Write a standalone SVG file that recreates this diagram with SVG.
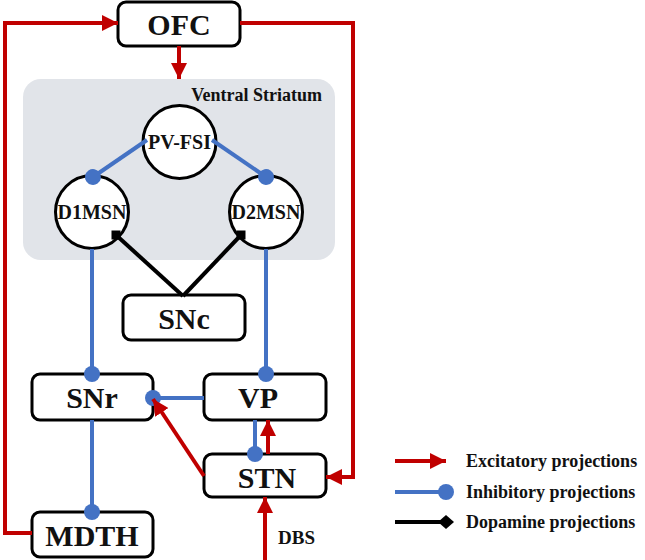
<svg xmlns="http://www.w3.org/2000/svg" width="645" height="560" viewBox="0 0 645 560">
<style>
.box{fill:#fff;stroke:#000;stroke-width:3}
.lbl{font-family:"Liberation Serif","Times New Roman",serif;font-weight:bold;fill:#111;text-anchor:middle}
.big{font-size:30px}
.sm{font-size:20px}
.exc{fill:none;stroke:#c00000;stroke-width:4}
.inh{fill:none;stroke:#4472c4;stroke-width:4}
.dop{fill:none;stroke:#000;stroke-width:4}
.leg{font-family:"Liberation Serif","Times New Roman",serif;font-weight:bold;font-size:18px;fill:#111}
</style>
<defs>
<marker id="arr" markerUnits="userSpaceOnUse" markerWidth="16" markerHeight="16" refX="16" refY="8" orient="auto" viewBox="0 0 16 16">
<path d="M0,0 L16,8 L0,16 z" fill="#c00000"/>
</marker>
<marker id="dot" markerUnits="userSpaceOnUse" markerWidth="18" markerHeight="18" refX="9" refY="9" orient="auto" viewBox="0 0 18 18">
<circle cx="9" cy="9" r="8" fill="#4472c4"/>
</marker>
<marker id="sq" markerUnits="userSpaceOnUse" markerWidth="10" markerHeight="10" refX="5" refY="5" orient="0" viewBox="0 0 10 10">
<rect x="0.5" y="0.5" width="9" height="9" fill="#000"/>
</marker>
<marker id="dia" markerUnits="userSpaceOnUse" markerWidth="18" markerHeight="18" refX="9" refY="9" orient="auto" viewBox="0 0 18 18">
<path d="M1,9 L9,2 L17,9 L9,16 z" fill="#000"/>
</marker>
</defs>
<rect x="23" y="79" width="312" height="181" rx="18" fill="#e1e4e9"/>
<text x="322" y="101" font-family="Liberation Serif, Times New Roman, serif" font-weight="bold" font-size="18" fill="#111" text-anchor="end">Ventral Striatum</text>
<g id="OFC"><rect class="box" x="118" y="2" width="122" height="44" rx="8"/><text class="lbl big" x="179" y="35">OFC</text></g>
<g id="PV-FSI"><circle class="box" cx="179.5" cy="142" r="36.5"/><text class="lbl sm" x="179.5" y="149">PV-FSI</text></g>
<g id="D1MSN"><circle class="box" cx="92" cy="212" r="36.5"/><text class="lbl sm" x="92" y="219">D1MSN</text></g>
<g id="D2MSN"><circle class="box" cx="266" cy="212" r="36.5"/><text class="lbl sm" x="266" y="219">D2MSN</text></g>
<g id="SNc"><rect class="box" x="123" y="295" width="122" height="45" rx="8"/><text class="lbl big" x="184" y="329">SNc</text></g>
<g id="SNr"><rect class="box" x="32" y="374" width="121" height="46" rx="8"/><text class="lbl big" x="92" y="408">SNr</text></g>
<g id="VP"><rect class="box" x="204" y="374" width="122" height="46" rx="8"/><text class="lbl big" x="258" y="408">VP</text></g>
<g id="STN"><rect class="box" x="204" y="454" width="122" height="43" rx="8"/><text class="lbl big" x="267" y="488">STN</text></g>
<g id="MDTH"><rect class="box" x="32" y="512" width="121" height="45" rx="8"/><text class="lbl big" x="92" y="546">MDTH</text></g>
<g id="connectors">
<path class="exc" d="M240,23 H353 V477 H326" marker-end="url(#arr)"/>
<path class="exc" d="M32,533 H5 V23 H118" marker-end="url(#arr)"/>
<path class="exc" d="M179,46 V79" marker-end="url(#arr)"/>
<path class="inh" d="M147,140 L93,177" marker-end="url(#dot)"/>
<path class="inh" d="M212,140 L266,177" marker-end="url(#dot)"/>
<path class="dop" d="M183,296 L116,235" marker-end="url(#sq)"/>
<path class="dop" d="M183,296 L241,235" marker-end="url(#sq)"/>
<path class="inh" d="M92,249 V374" marker-end="url(#dot)"/>
<path class="inh" d="M266,249 V374" marker-end="url(#dot)"/>
<path class="inh" d="M204,398 H153" marker-end="url(#dot)"/>
<path class="exc" d="M204,476 L153,399" marker-end="url(#arr)"/>
<path class="inh" d="M255,420 V454" marker-end="url(#dot)"/>
<path class="exc" d="M268,454 V420" marker-end="url(#arr)"/>
<path class="inh" d="M92,420 V512" marker-end="url(#dot)"/>
<path class="exc" d="M265,562 V497" marker-end="url(#arr)"/>
</g>
<text x="278" y="544" font-family="Liberation Serif, Times New Roman, serif" font-weight="bold" font-size="19" fill="#111">DBS</text>
<g id="legend">
<path class="exc" d="M395,461 H446" marker-end="url(#arr)"/>
<text class="leg" x="466" y="467">Excitatory projections</text>
<path class="inh" d="M395,492 H446" marker-end="url(#dot)"/>
<text class="leg" x="466" y="498">Inhibitory projections</text>
<path class="dop" d="M395,522 H446" marker-end="url(#dia)"/>
<text class="leg" x="466" y="528">Dopamine projections</text>
</g>
</svg>
